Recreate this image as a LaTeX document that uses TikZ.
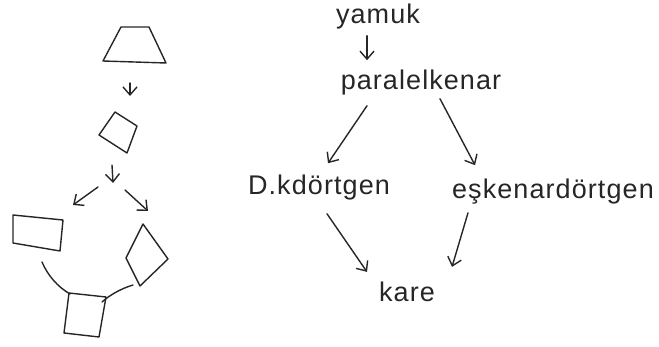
\documentclass[tikz,border=0pt]{standalone}
\usepackage{fontspec}
\setmainfont{Liberation Sans}
\newfontfamily\handfont[LetterSpace=4]{Liberation Sans}
\usetikzlibrary{arrows.meta}
\begin{document}
\begin{tikzpicture}[x=1pt,y=-1pt,
  ink/.style={line width=1.4pt,line join=round,line cap=round,draw=black!85},
  arr/.style={ink,-{Straight Barb[length=8pt,width=14pt,line width=1.4pt]}},
  word/.style={inner sep=0pt,font=\handfont\fontsize{27}{30}\selectfont,text=black!85}]
\useasboundingbox (0,0) rectangle (659,347);

% shapes sequence on the left
\draw[ink] (121,27) -- (149,27) -- (166,63) -- (103,61) -- cycle;
\coordinate (a1s) at (130,83); \coordinate (a1e) at (130,96);
\draw[arr] (a1s) -- (a1e);
\draw[ink] (115,112) -- (137,126) -- (127,153) -- (99,135) -- cycle;
\coordinate (a2s) at (112,165); \coordinate (a2e) at (113,183);
\draw[arr] (a2s) -- (a2e);
\coordinate (a3s) at (98,187); \coordinate (a3e) at (73,205);
\draw[arr] (a3s) -- (a3e);
\coordinate (a4s) at (125,190); \coordinate (a4e) at (148,211);
\draw[arr] (a4s) -- (a4e);
\draw[ink] (13,215) -- (63,220) -- (60,251) -- (13,243) -- cycle;
\draw[ink] (143,224) -- (168,259) -- (140,286) -- (126,258) -- cycle;
\draw[ink] (69,293) -- (106,297) -- (99,337) -- (64,333) -- cycle;
\coordinate (c1s) at (42,262); \coordinate (c1e) at (70,294);
\draw[ink] (c1s) .. controls (48,276) and (58,287) .. (c1e);
\coordinate (c2s) at (133,285); \coordinate (c2e) at (102,302);
\draw[ink] (c2s) .. controls (120,289) and (110,295) .. (c2e);

% names of the quadrilaterals
\node[word] (yamuk) at (378,17) {yamuk};
\node[word] (para) at (421,83) {paralelkenar};
\node[word] (dik) at (319,188) {D.kdörtgen};
\node[word] (esk) at (553,192) {eşkenardörtgen};
\node[word] (kare) at (407,292) {kare};

\draw[arr] ([xshift=-11pt,yshift=-6pt]yamuk.south) -- ([xshift=-54pt,yshift=10pt]para.north);
\draw[arr] ([xshift=-54pt,yshift=-10pt]para.south) -- ([xshift=9pt,yshift=12pt]dik.north);
\draw[arr] ([xshift=19pt,yshift=-3pt]para.south) -- ([xshift=-78pt,yshift=14pt]esk.north);
\draw[arr] ([xshift=8pt,yshift=-13pt]dik.south) -- ([xshift=-40pt,yshift=10pt]kare.north);
\draw[arr] ([xshift=-85pt,yshift=-8pt]esk.south) -- ([xshift=45pt,yshift=15pt]kare.north);
\end{tikzpicture}
\end{document}
